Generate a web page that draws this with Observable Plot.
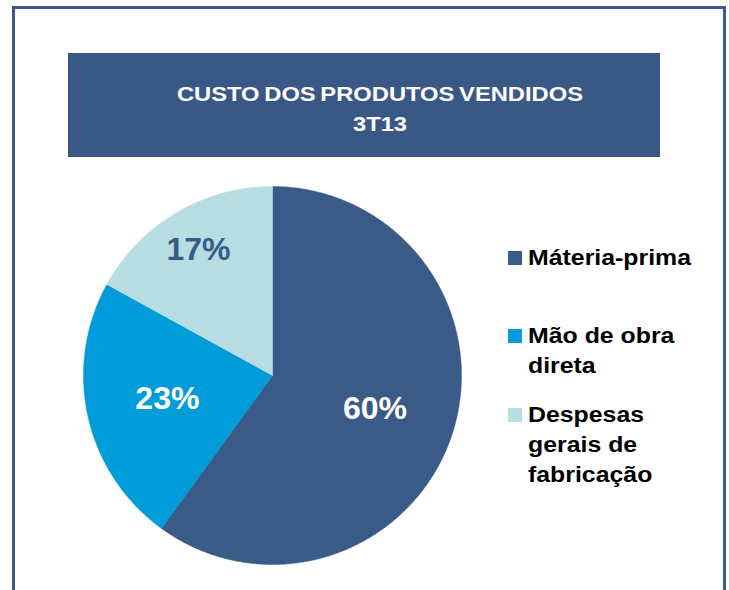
<!DOCTYPE html>
<html><head><meta charset="utf-8">
<script src="https://cdn.jsdelivr.net/npm/d3@7"></script>
<script src="https://cdn.jsdelivr.net/npm/@observablehq/plot@0.6"></script>
<style>
body{margin:0;background:#fff;font-family:"Liberation Sans",Arial,sans-serif}
#wrap{position:relative;width:729px;height:590px;overflow:hidden;background:#fff}
#frame{position:absolute;left:12px;top:6px;width:714px;height:620px;border:3px solid #3B5A8A;box-sizing:border-box}
#titlebox{position:absolute;left:68px;top:53px;width:592px;height:104px;background:#3A5886}
#title{position:absolute;left:180px;width:400px;top:79px;text-align:center;color:#fff;font-weight:bold;font-size:21px;line-height:30px;word-spacing:-1.7px;transform:scaleX(1.13);transform-origin:200px 0}
.leg{position:absolute;left:508px;font-weight:bold;font-size:22px;line-height:30px;color:#000}
.leg .sw{position:absolute;left:0;width:14px;height:14px}
.leg .tx{position:absolute;left:20px;white-space:nowrap;transform:scaleX(1.13);transform-origin:0 0}
svg{position:absolute;left:0;top:0}
</style></head>
<body><div id="wrap"><div id="frame"></div><div id="titlebox"></div><div id="title"></div></div>
<script>
const titleLines = ["CUSTO DOS PRODUTOS VENDIDOS", "3T13"];
const categories = ["Máteria-prima", "Mão de obra direta", "Despesas gerais de fabricação"];
const legendLines = [["Máteria-prima"], ["Mão de obra", "direta"], ["Despesas", "gerais de", "fabricação"]];
const values = [60, 23, 17];
const valueLabels = ["60%", "23%", "17%"];
const colors = ["#3A5A88", "#009BD9", "#B7DDE2"];
const labelColors = ["#ffffff", "#ffffff", "#3A5A88"];

const wrap = document.getElementById("wrap");
document.getElementById("title").innerHTML = titleLines.join("<br>");

const data = categories.map((c, i) => ({cat: c, value: values[i], label: valueLabels[i], labelColor: labelColors[i]}));
const slices = d3.pie().sort(null).value(d => d.value)(data);

// polygon outline of each slice (unit circle, angle 0 at 12 o'clock, clockwise)
const outline = [];
for (const s of slices) {
  outline.push({cat: s.data.cat, x: 0, y: 0});
  const n = Math.max(2, Math.ceil((s.endAngle - s.startAngle) / 0.01));
  for (let k = 0; k <= n; k++) {
    const a = s.startAngle + (s.endAngle - s.startAngle) * k / n;
    outline.push({cat: s.data.cat, x: Math.sin(a), y: Math.cos(a)});
  }
  outline.push({cat: s.data.cat, x: 0, y: 0});
}
const labelPts = slices.map(s => {
  const a = (s.startAngle + s.endAngle) / 2;
  const rr = s.data.value < 20 ? 0.77 : 0.57;
  return {text: s.data.label, color: s.data.labelColor, x: rr * Math.sin(a), y: rr * Math.cos(a)};
});

const cx = 272, cy = 375, r = 189;
const chart = Plot.plot({
  width: 729, height: 590,
  marginTop: 0, marginRight: 0, marginBottom: 0, marginLeft: 0,
  x: {domain: [-1, 1], range: [cx - r, cx + r], axis: null},
  y: {domain: [-1, 1], range: [cy + r, cy - r], axis: null},
  color: {domain: categories, range: colors},
  style: {background: "transparent", fontFamily: "Liberation Sans, Arial, sans-serif"},
  marks: [
    Plot.line(outline, {x: "x", y: "y", z: "cat", fill: "cat", stroke: "cat", strokeWidth: 0.5, curve: "linear"}),
    ...[...new Set(labelColors)].map(col =>
      Plot.text(labelPts.filter(d => d.color === col), {x: "x", y: "y", text: "text", fill: col, fontSize: 32, fontWeight: "bold"}))
  ]
});
wrap.appendChild(chart);

legendLines.forEach((lines, i) => {
  const el = document.createElement("div");
  el.className = "leg";
  el.style.top = (243 + [0, 78, 157][i]) + "px";
  el.innerHTML = `<div class="sw" style="background:${colors[i]};top:8px"></div><div class="tx">${lines.join("<br>")}</div>`;
  wrap.appendChild(el);
});
</script></body></html>
